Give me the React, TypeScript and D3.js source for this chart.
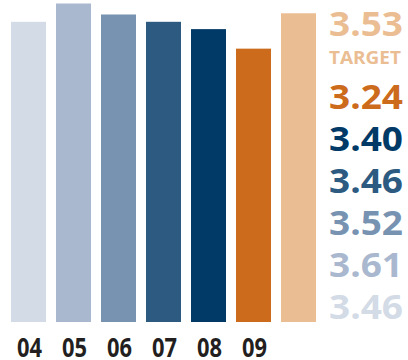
import React from "react";
import * as d3 from "d3";

const categories = ["04", "05", "06", "07", "08", "09", "TARGET"];
const values = [3.46, 3.61, 3.52, 3.46, 3.4, 3.24, 3.53];
const colors = ["#d3dbe6", "#a9b8ce", "#7793b1", "#2d5a81", "#013a66", "#cc6b1c", "#ebbd93"];
// right-hand legend order (top to bottom), as indices into categories
const legendOrder = [6, 5, 4, 3, 2, 1, 0];
const targetLabel = "TARGET";

const W = 408;
const H = 360;
const baseY = 322;

export default function App() {
  const x = d3
    .scaleBand<string>()
    .domain(categories)
    .range([11, 316])
    .paddingInner(10 / 45)
    .paddingOuter(0);
  const y = d3.scaleLinear().domain([1, 3.61]).range([baseY, 3.5]);
  const fmt = d3.format(".2f");
  const font = "'Open Sans', 'DejaVu Sans', sans-serif";

  return (
    <svg
      width={W}
      height={H}
      style={{ position: "absolute", left: 0, top: 0, background: "#fff" }}
    >
      {categories.map((c, i) => (
        <rect
          key={c}
          x={x(c)}
          y={y(values[i])}
          width={x.bandwidth()}
          height={baseY - y(values[i])}
          fill={colors[i]}
        />
      ))}
      {categories.slice(0, 6).map((c) => (
        <text
          key={"l" + c}
          x={(x(c) as number) + x.bandwidth() / 2 + 1}
          y={357}
          textAnchor="middle"
          fontFamily={font}
          fontWeight={700}
          fontSize={26}
          fill="#231f20"
          textLength={25}
          lengthAdjust="spacingAndGlyphs"
        >
          {c}
        </text>
      ))}
      {legendOrder.map((idx, k) => {
        const by = k === 0 ? 36 : 109 + (k - 1) * 42;
        return (
          <text
            key={"v" + idx}
            x={329}
            y={by}
            fontFamily={font}
            fontWeight={700}
            fontSize={34}
            fill={colors[idx]}
            textLength={74}
            lengthAdjust="spacingAndGlyphs"
          >
            {fmt(values[idx])}
          </text>
        );
      })}
      <text
        x={329}
        y={63.5}
        fontFamily={font}
        fontWeight={700}
        fontSize={18.5}
        fill={colors[6]}
        textLength={72}
        lengthAdjust="spacingAndGlyphs"
      >
        {targetLabel}
      </text>
    </svg>
  );
}
